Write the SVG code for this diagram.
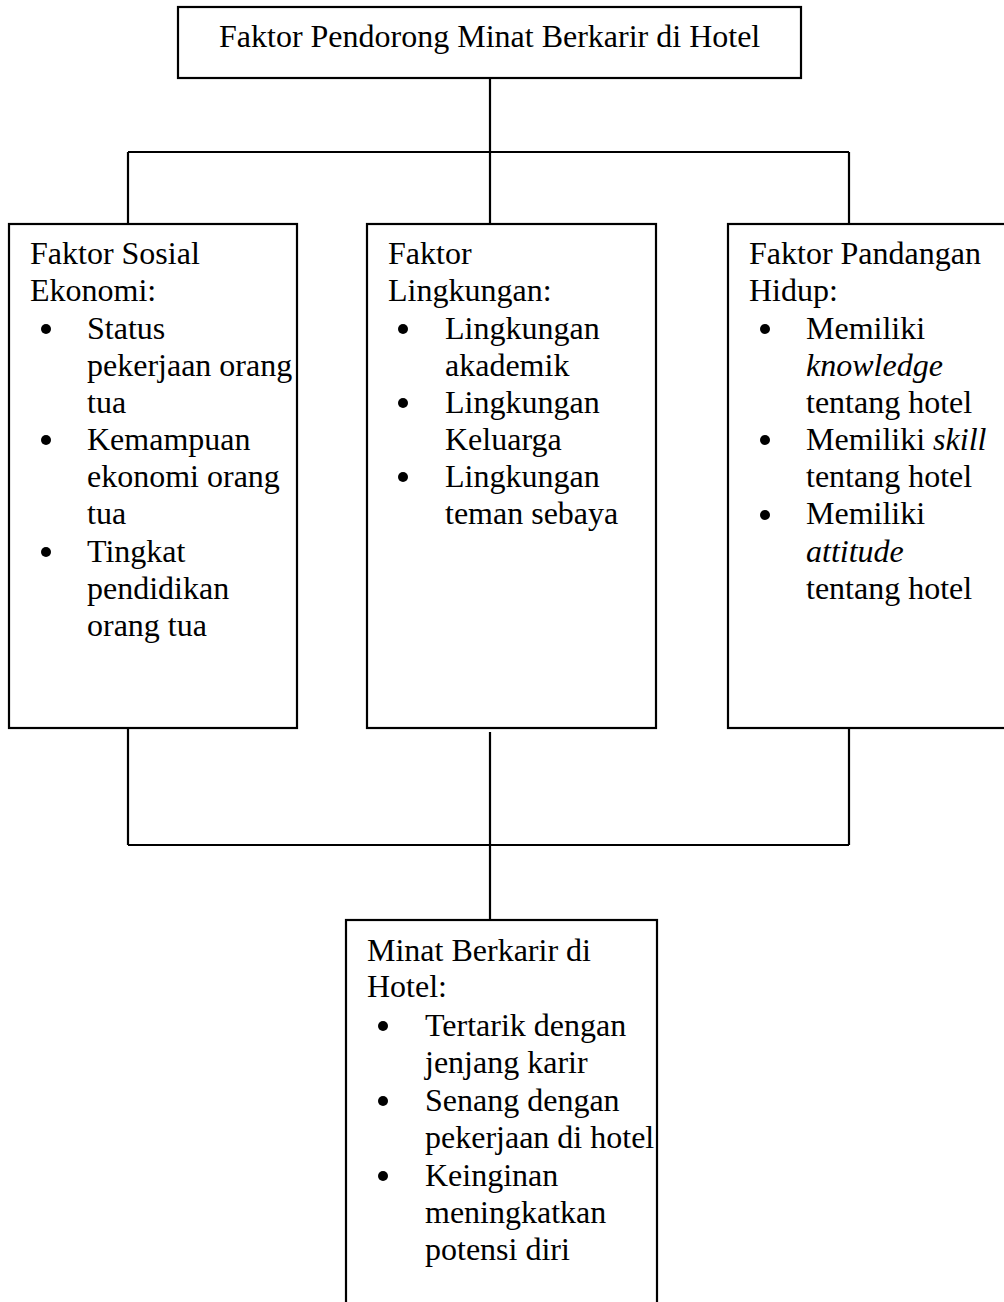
<svg xmlns="http://www.w3.org/2000/svg" width="1004" height="1302" viewBox="0 0 1004 1302">
<style>
.box{fill:#fff;stroke:#000;stroke-width:2.2}
.ln{fill:none;stroke:#000;stroke-width:2.2}
text{font-family:"Liberation Serif","Times New Roman",serif;font-size:32px;fill:#000}
.i{font-style:italic}
</style>
<rect width="1004" height="1302" fill="#fff"/>
<g id="connectors">
<path class="ln" d="M490 78V152M128 152H849M128 152V224M490 152V224M849 152V224"/>
<path class="ln" d="M128 728V845M849 728V845M128 845H849M490 732V920"/>
</g>
<g id="top">
<rect class="box" x="178" y="7" width="623" height="71"/>
<text x="219" y="47">Faktor Pendorong Minat Berkarir di Hotel</text>
</g>
<g id="sosial">
<rect class="box" x="9" y="224" width="288" height="504"/>
<text x="30" y="264">Faktor Sosial</text>
<text x="30" y="301">Ekonomi:</text>
<circle cx="46" cy="329" r="5"/>
<text x="87" y="339">Status</text>
<text x="87" y="376">pekerjaan orang</text>
<text x="87" y="413">tua</text>
<circle cx="46" cy="440" r="5"/>
<text x="87" y="450">Kemampuan</text>
<text x="87" y="487">ekonomi orang</text>
<text x="87" y="524">tua</text>
<circle cx="46" cy="552" r="5"/>
<text x="87" y="562">Tingkat</text>
<text x="87" y="599">pendidikan</text>
<text x="87" y="636">orang tua</text>
</g>
<g id="lingkungan">
<rect class="box" x="367" y="224" width="289" height="504"/>
<text x="388" y="264">Faktor</text>
<text x="388" y="301">Lingkungan:</text>
<circle cx="403" cy="329" r="5"/>
<text x="445" y="339">Lingkungan</text>
<text x="445" y="376">akademik</text>
<circle cx="403" cy="403" r="5"/>
<text x="445" y="413">Lingkungan</text>
<text x="445" y="450">Keluarga</text>
<circle cx="403" cy="477" r="5"/>
<text x="445" y="487">Lingkungan</text>
<text x="445" y="524">teman sebaya</text>
</g>
<g id="pandangan">
<rect class="box" x="728" y="224" width="290" height="504"/>
<text x="749" y="264">Faktor Pandangan</text>
<text x="749" y="301">Hidup:</text>
<circle cx="765" cy="329" r="5"/>
<text x="806" y="339">Memiliki</text>
<text x="806" y="376" class="i">knowledge</text>
<text x="806" y="413">tentang hotel</text>
<circle cx="765" cy="440" r="5"/>
<text x="806" y="450">Memiliki <tspan class="i">skill</tspan></text>
<text x="806" y="487">tentang hotel</text>
<circle cx="765" cy="515" r="5"/>
<text x="806" y="524">Memiliki</text>
<text x="806" y="562" class="i">attitude</text>
<text x="806" y="599">tentang hotel</text>
</g>
<g id="minat">
<rect class="box" x="346" y="920" width="311" height="400"/>
<text x="367" y="961">Minat Berkarir di</text>
<text x="367" y="997">Hotel:</text>
<circle cx="383" cy="1026" r="5"/>
<text x="425" y="1036">Tertarik dengan</text>
<text x="425" y="1073">jenjang karir</text>
<circle cx="383" cy="1101" r="5"/>
<text x="425" y="1111">Senang dengan</text>
<text x="425" y="1148">pekerjaan di hotel</text>
<circle cx="383" cy="1176" r="5"/>
<text x="425" y="1186">Keinginan</text>
<text x="425" y="1223">meningkatkan</text>
<text x="425" y="1260">potensi diri</text>
</g>
</svg>
